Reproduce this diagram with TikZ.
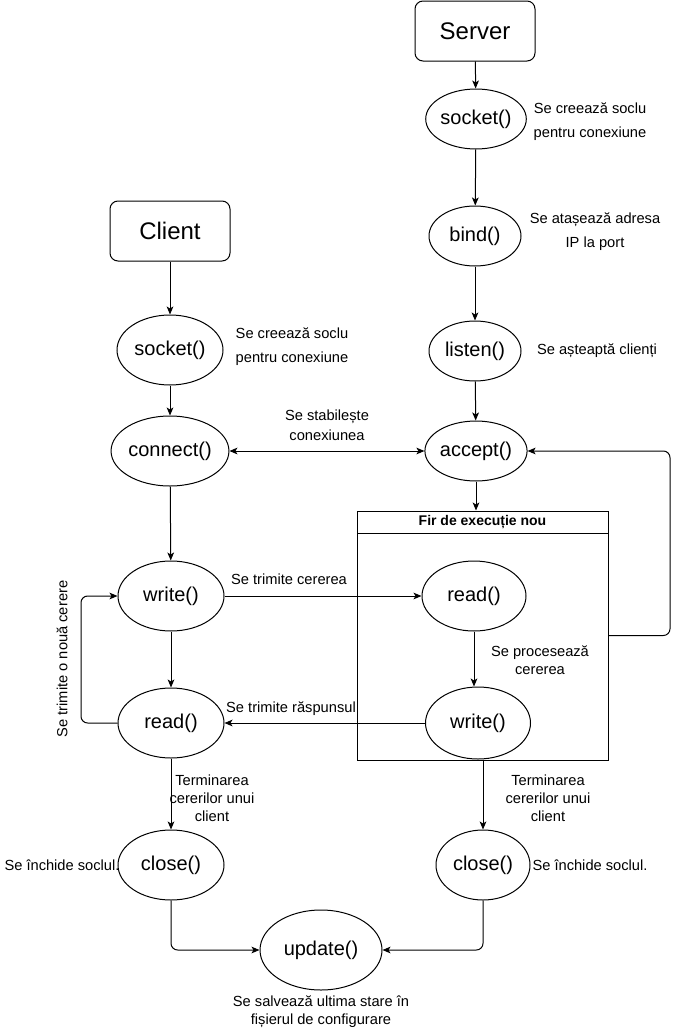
\documentclass[tikz,border=0pt]{standalone}
\usepackage{fontspec}
\setmainfont{Liberation Sans}
\usetikzlibrary{shapes.geometric,arrows.meta,calc}

\begin{document}
\begin{tikzpicture}[
    x=0.75pt,y=-0.75pt,
    font=\fontsize{15}{18}\selectfont,
    line width=0.75pt,
    >={Stealth[length=6pt,width=5pt,inset=1.5pt]}
  ]
\def\u{0.75pt}
\useasboundingbox (0,0) rectangle (679,1028);

\tikzstyle{start}=[draw,rounded corners=6pt,minimum width=120*\u,minimum height=60*\u,font=\fontsize{18}{20}\selectfont];
\tikzstyle{call}=[ellipse,draw,inner sep=0pt,minimum width=106*\u,minimum height=70*\u];
\tikzstyle{scall}=[call,minimum width=92*\u,minimum height=60*\u];
\tikzstyle{lbl}=[align=center,inner sep=0pt,font=\fontsize{11}{13.5}\selectfont];
\tikzstyle{wide}=[font=\fontsize{11}{18}\selectfont];

% server side
\node[start] (server) at (475,31) {Server};
\node[scall] (ssock) at (476,119) {socket()};
\node[scall] (bind) at (475,236) {bind()};
\node[scall] (listen) at (475,351) {listen()};
\node[scall] (accept) at (476,451) {accept()};

\node[draw,minimum width=251*\u,minimum height=249*\u] (thread) at (482.5,635.5) {};
\node[draw,anchor=north,minimum width=251*\u,minimum height=22*\u,font=\fontsize{10.5}{12}\selectfont\bfseries] (hdr) at (thread.north) {Fir de execuție nou};

\node[call,minimum width=104*\u] (sread) at (474,596) {read()};
\node[call,minimum width=105*\u,minimum height=72*\u] (swrite) at (478,723) {write()};
\node[call,minimum width=94*\u] (sclose) at (483,865) {close()};

% client side
\node[start] (client) at (170,231) {Client};
\node[call] (csock) at (170,350) {socket()};
\node[call] (connect) at (170,451) {connect()};
\node[call] (cwrite) at (171,596) {write()};
\node[call] (cread) at (171,723) {read()};
\node[call] (cclose) at (171,865) {close()};

\node[call,minimum width=122*\u,minimum height=80*\u] (update) at (321,950) {update()};

% labels
\node[lbl,wide] (lssock) at (590,122) {Se creează soclu\\pentru conexiune};
\node[lbl,wide] (lbind) at (595,232) {Se atașează adresa\\IP la port};
\node[lbl] (llisten) at (597,351) {Se așteaptă clienți};
\node[lbl,wide] (lcsock) at (292,347) {Se creează soclu\\pentru conexiune};
\node[lbl,font=\fontsize{11}{15}\selectfont] (lconn) at (327,425) {Se stabilește\\conexiunea};
\node[lbl] (lreq) at (289,579) {Se trimite cererea};
\node[lbl,font=\fontsize{11}{14}\selectfont] (lproc) at (540,660) {Se procesează\\cererea};
\node[lbl] (lresp) at (291,709) {Se trimite răspunsul};
\node[lbl,rotate=90] (lloop) at (62,659) {Se trimite o nouă cerere};
\node[lbl] (lcend) at (212,798) {Terminarea\\cererilor unui\\client};
\node[lbl] (lsend) at (548,798) {Terminarea\\cererilor unui\\client};
\node[lbl] (lcclose) at (62,865) {Se închide soclul.};
\node[lbl] (lsclose) at (590,865) {Se închide soclul.};
\node[lbl] (lupdate) at (321,1012) {Se salvează ultima stare în\\fișierul de configurare};

% server flow
\draw[->] (server) -- (ssock);
\draw[->] (ssock) -- (bind);
\draw[->] (bind) -- (listen);
\draw[->] (listen) -- (accept);
\draw[->] (accept.south) -- (accept.south |- thread.north);
\draw[->] (sread.south) -- (sread.south |- swrite.north);
\draw[->] (sclose.north |- swrite.south) -- (sclose.north);

\coordinate (loopR) at (670,451);
\draw[->,rounded corners=5pt] (thread.east) -| (loopR) -- (accept.east);

% client flow
\draw[->] (client) -- (csock);
\draw[->] (csock) -- (connect);
\draw[->] (connect) -- (cwrite);
\draw[->] (cwrite) -- (cread);
\draw[->] (cread) -- (cclose);

\coordinate (loopL) at (81,723);
\draw[->,rounded corners=5pt] (cread.west) -- (loopL) |- (cwrite.west);

% between the two
\draw[<->] (connect) -- (accept);
\draw[->] (cwrite) -- (sread);
\draw[->] (swrite) -- (cread);

\draw[->,rounded corners=5pt] (cclose.south) |- (update.west);
\draw[->,rounded corners=5pt] (sclose.south) |- (update.east);

\end{tikzpicture}
\end{document}
